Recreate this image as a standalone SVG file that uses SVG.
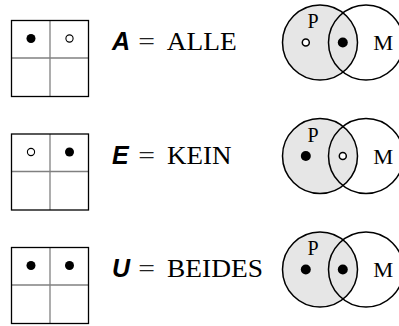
<svg xmlns="http://www.w3.org/2000/svg" xmlns:xlink="http://www.w3.org/1999/xlink" width="399" height="326" viewBox="0 0 399 326">
  <style>
    .frame { fill: none; stroke: #000; stroke-width: 1.3; }
    .grid { fill: none; stroke: #808080; stroke-width: 1.3; }
    .dot { fill: #000; }
    .ring { fill: #fff; stroke: #000; stroke-width: 1.1; }
    .vring { fill: #fff; stroke: #000; stroke-width: 1.5; }
    .setP { fill: #e6e6e6; stroke: #000; stroke-width: 1.5; }
    .setM { fill: none; stroke: #000; stroke-width: 1.5; }
    .sym { font-family: "Liberation Sans", Arial, sans-serif; font-weight: bold; font-style: italic; font-size: 25px; fill: #000; }
    .word { font-family: "Liberation Serif", "Times New Roman", serif; font-size: 25px; fill: #000; }
    .eq { font-family: "Liberation Serif", "Times New Roman", serif; font-size: 25px; fill: #222; }
    .set { font-family: "Liberation Serif", "Times New Roman", serif; font-size: 20px; fill: #000; }
  </style>
  <defs>
    <!-- 2x2 square: black frame, grey inner rules -->
    <g id="square">
      <line class="grid" x1="50" y1="20.5" x2="50" y2="96.5"/>
      <line class="grid" x1="11.5" y1="58" x2="88.5" y2="58"/>
      <rect class="frame" x="11.5" y="20.5" width="77" height="76"/>
    </g>
    <!-- two overlapping sets P (shaded) and M -->
    <g id="sets">
      <circle class="setP" cx="320" cy="42.5" r="37.5"/>
      <circle class="setM" cx="366" cy="42.5" r="37.5"/>
      <text class="set" x="313" y="28.3" text-anchor="middle">P</text>
      <text class="set" x="373.3" y="50" textLength="20" lengthAdjust="spacingAndGlyphs">M</text>
    </g>
  </defs>

  <!-- A = ALLE -->
  <g id="row-a">
    <g id="square-a">
      <use xlink:href="#square"/>
      <circle class="dot" cx="31" cy="38.5" r="4.5"/>
      <circle class="ring" cx="69.5" cy="38.5" r="3.6"/>
    </g>
    <g id="label-a">
      <text class="sym" x="112" y="50">A</text>
      <text class="eq" x="138.3" y="50" textLength="16.7" lengthAdjust="spacingAndGlyphs">=</text>
      <text class="word" x="166.7" y="50" textLength="70" lengthAdjust="spacingAndGlyphs">ALLE</text>
    </g>
    <g id="venn-a">
      <use xlink:href="#sets"/>
      <circle class="vring" cx="305.8" cy="42.5" r="3.5"/>
      <circle class="dot" cx="342.8" cy="42.5" r="5"/>
    </g>
  </g>

  <!-- E = KEIN -->
  <g id="row-e" transform="translate(0,113.5)">
    <g id="square-e">
      <use xlink:href="#square"/>
      <circle class="ring" cx="31" cy="38.5" r="3.6"/>
      <circle class="dot" cx="69.5" cy="38.5" r="4.5"/>
    </g>
    <g id="label-e">
      <text class="sym" x="112" y="50">E</text>
      <text class="eq" x="138.3" y="50" textLength="16.7" lengthAdjust="spacingAndGlyphs">=</text>
      <text class="word" x="167" y="50" textLength="64.5" lengthAdjust="spacingAndGlyphs">KEIN</text>
    </g>
    <g id="venn-e">
      <use xlink:href="#sets"/>
      <circle class="dot" cx="305.8" cy="42.5" r="5"/>
      <circle class="vring" cx="342.8" cy="42.5" r="3.5"/>
    </g>
  </g>

  <!-- U = BEIDES -->
  <g id="row-u" transform="translate(0,227)">
    <g id="square-u">
      <use xlink:href="#square"/>
      <circle class="dot" cx="31" cy="38.5" r="4.5"/>
      <circle class="dot" cx="69.5" cy="38.5" r="4.5"/>
    </g>
    <g id="label-u">
      <text class="sym" x="112" y="50">U</text>
      <text class="eq" x="138.3" y="50" textLength="16.7" lengthAdjust="spacingAndGlyphs">=</text>
      <text class="word" x="167" y="50" textLength="96" lengthAdjust="spacingAndGlyphs">BEIDES</text>
    </g>
    <g id="venn-u">
      <use xlink:href="#sets"/>
      <circle class="dot" cx="305.8" cy="42.5" r="5"/>
      <circle class="dot" cx="342.8" cy="42.5" r="5"/>
    </g>
  </g>
</svg>
